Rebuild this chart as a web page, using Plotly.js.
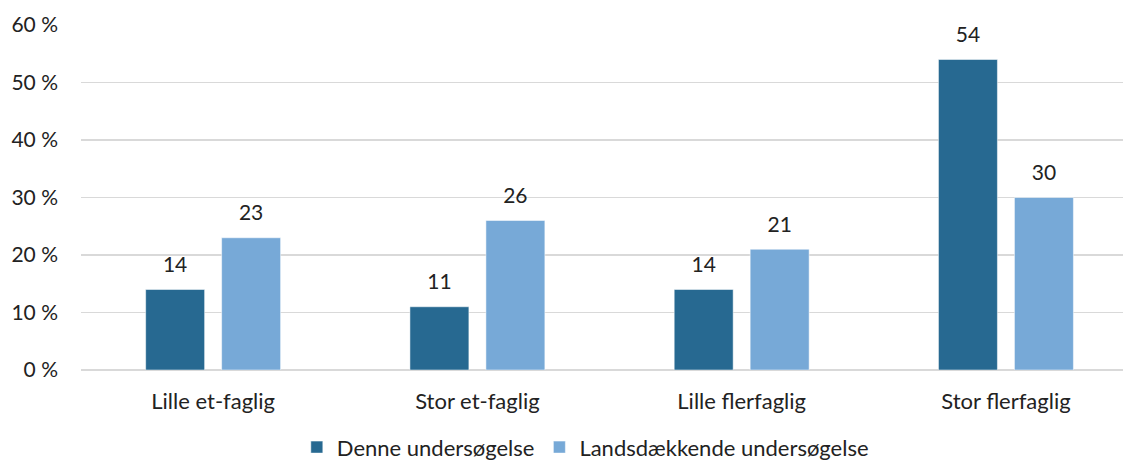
<!DOCTYPE html>
<html>
<head>
<meta charset="utf-8">
<script src="https://cdn.plot.ly/plotly-3.0.1.min.js"></script>
<style>html,body{margin:0;padding:0;background:#fff;}#chart{width:1123px;height:464px;}</style>
</head>
<body>
<div id="chart"></div>
<script>
const categories = ["Lille et-faglig", "Stor et-faglig", "Lille flerfaglig", "Stor flerfaglig"];
const seriesNames = ["Denne undersøgelse", "Landsdækkende undersøgelse"];
const denne = [14, 11, 14, 54];
const lands = [23, 26, 21, 30];
const yTickVals = [0, 10, 20, 30, 40, 50, 60];
const yTickText = ["0 %", "10 %", "20 %", "30 %", "40 %", "50 %", "60 %"];

const font = "Lato, 'Open Sans', sans-serif";
const fs = 21;
const fsx = 22;
const colors = ['#276991', '#77a9d7'];

function barTrace(name, vals, color) {
  return {type: 'bar', name: name, x: categories, y: vals,
    marker: {color: color, line: {color: '#ffffff', width: 0.5}}, hoverinfo: 'none'};
}
function labelTrace(vals) {
  return {type: 'scatter', mode: 'markers+text', x: categories, y: vals,
    text: vals.map(String), textposition: 'top center', cliponaxis: false,
    marker: {size: 18, color: 'rgba(0,0,0,0)'}, showlegend: false, hoverinfo: 'none',
    textfont: {size: fs, color: '#222', family: font}};
}

const traces = [
  barTrace(seriesNames[0], denne, colors[0]),
  barTrace(seriesNames[1], lands, colors[1]),
  labelTrace(denne),
  labelTrace(lands)
];

const layout = {
  width: 1123, height: 464,
  margin: {l: 81, r: 0, t: 25, b: 94},
  paper_bgcolor: '#fff', plot_bgcolor: '#fff',
  font: {family: font, size: fs, color: '#222'},
  barmode: 'group', bargap: 0.425, bargroupgap: 0.224,
  scattermode: 'group', scattergap: 0.425,
  showlegend: true,
  legend: {orientation: 'h', xref: 'paper', x: 0.484, xanchor: 'center',
           yref: 'container', y: 0.036, yanchor: 'middle',
           font: {size: fsx, family: font, color: '#222'}, traceorder: 'normal', itemwidth: 30},
  xaxis: {type: 'category', range: [-0.5, 3.443], showgrid: false, showline: false, automargin: false,
          ticks: '', ticklabelstandoff: 16, tickfont: {size: fsx, family: font, color: '#222'}},
  yaxis: {range: [0, 60], tickvals: yTickVals, ticktext: yTickText, showgrid: true, automargin: false,
          gridcolor: '#d9d9d9', gridwidth: 1.5, zeroline: true, zerolinecolor: '#d9d9d9', zerolinewidth: 1.5,
          showline: false, ticks: '', ticklabelstandoff: 22, tickfont: {size: fs, family: font, color: '#222'}}
};

Plotly.newPlot('chart', traces, layout, {displayModeBar: false, staticPlot: true});
</script>
</body>
</html>
